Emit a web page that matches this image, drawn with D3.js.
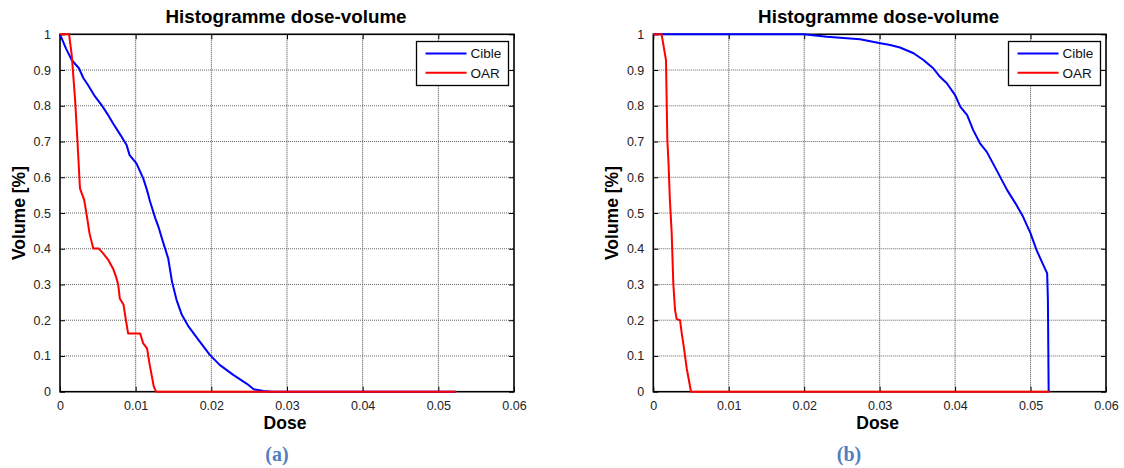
<!DOCTYPE html>
<html>
<head>
<meta charset="utf-8">
<script src="https://cdn.jsdelivr.net/npm/d3@7"></script>
<style>
  html, body { margin: 0; padding: 0; background: #fff; }
  svg { display: block; font-family: Arial, "Liberation Sans", Helvetica, sans-serif; }
</style>
</head>
<body>
<svg id="chart" width="1124" height="468"></svg>
<script>
// ---- Data ----
const titleText = "Histogramme dose-volume";
const xLabel = "Dose";
const yLabel = "Volume [%]";
const seriesNames = ["Cible", "OAR"];
const xTicks = [0, 0.01, 0.02, 0.03, 0.04, 0.05, 0.06];
const yTicks = [0, 0.1, 0.2, 0.3, 0.4, 0.5, 0.6, 0.7, 0.8, 0.9, 1];
const captions = ["(a)", "(b)"];

// Panel (a)
const cibleA = [[0,1],[0.0008,0.96],[0.00155,0.928],[0.0025,0.905],[0.0031,0.877],[0.0037,0.858],[0.0045,0.83],[0.0055,0.802],[0.0063,0.776],[0.0070,0.751],[0.0080,0.718],[0.0088,0.690],[0.0092,0.662],[0.0101,0.639],[0.0110,0.597],[0.0115,0.564],[0.0119,0.532],[0.0126,0.485],[0.0130,0.462],[0.0136,0.42],[0.0143,0.373],[0.0148,0.308],[0.0154,0.257],[0.0161,0.215],[0.0170,0.182],[0.0183,0.145],[0.0198,0.103],[0.0211,0.075],[0.0229,0.047],[0.0247,0.022],[0.0256,0.007],[0.0269,0.002],[0.0280,0],[0.0523,0]];
const oarA = [[0,1],[0.0012,1],[0.00155,0.942],[0.0020,0.816],[0.0023,0.704],[0.00264,0.569],[0.0032,0.536],[0.0036,0.485],[0.0039,0.443],[0.0044,0.401],[0.0051,0.401],[0.0057,0.387],[0.0064,0.368],[0.0070,0.345],[0.0074,0.322],[0.0077,0.299],[0.0079,0.261],[0.0084,0.243],[0.0086,0.215],[0.0090,0.163],[0.0106,0.163],[0.0110,0.135],[0.0115,0.121],[0.0119,0.070],[0.0124,0.014],[0.0127,0],[0.0523,0]];

// Panel (b)
const cibleB = [[0,1],[0.0199,1],[0.023,0.993],[0.0274,0.986],[0.0301,0.975],[0.0314,0.970],[0.0327,0.963],[0.0345,0.947],[0.0358,0.928],[0.0371,0.905],[0.0380,0.881],[0.0389,0.863],[0.0400,0.830],[0.0407,0.797],[0.0416,0.774],[0.0424,0.732],[0.0433,0.695],[0.0442,0.671],[0.0455,0.620],[0.0469,0.564],[0.0480,0.527],[0.0490,0.490],[0.0500,0.443],[0.0508,0.396],[0.0517,0.354],[0.0522,0.331],[0.0523,0.257],[0.0524,0]];
const oarB = [[0,1],[0.0011,1],[0.00168,0.928],[0.00186,0.704],[0.0020,0.648],[0.0022,0.536],[0.00244,0.443],[0.00265,0.303],[0.00288,0.229],[0.0031,0.203],[0.00354,0.2],[0.00377,0.163],[0.00407,0.121],[0.00443,0.065],[0.0050,0],[0.0525,0]];

const colors = ["#0000ff", "#ff0000"];

const svg = d3.select("#chart");

function drawPanel(opts) {
  const { x0, x1, y0, y1, series, caption, yLabelX, legendX, captionX } = opts;
  const x = d3.scaleLinear().domain([0, 0.06]).range([x0, x1]);
  const y = d3.scaleLinear().domain([0, 1]).range([y1, y0]);
  const g = svg.append("g");

  // grid
  g.append("g").selectAll("line").data(xTicks.slice(1, -1)).join("line")
    .attr("x1", d => x(d)).attr("x2", d => x(d))
    .attr("y1", y0).attr("y2", y1)
    .attr("stroke", "#444").attr("stroke-width", 1).attr("stroke-dasharray", "1,1");
  g.append("g").selectAll("line").data(yTicks.slice(1, -1)).join("line")
    .attr("x1", x0).attr("x2", x1)
    .attr("y1", d => y(d)).attr("y2", d => y(d))
    .attr("stroke", "#666").attr("stroke-width", 1).attr("stroke-dasharray", "1,1");

  // axes (ticks inward)
  const fmt = d => d === 0 ? "0" : (d === 1 ? "1" : String(+d.toFixed(2)));
  const bottom = g.append("g").attr("transform", `translate(0,${y1})`)
    .call(d3.axisBottom(x).tickValues(xTicks).tickSize(-5).tickPadding(9).tickFormat(fmt));
  const left = g.append("g").attr("transform", `translate(${x0},0)`)
    .call(d3.axisLeft(y).tickValues(yTicks).tickSize(-5).tickPadding(9).tickFormat(fmt));
  const top = g.append("g").attr("transform", `translate(0,${y0})`)
    .call(d3.axisTop(x).tickValues(xTicks).tickSize(-5).tickFormat(""));
  const right = g.append("g").attr("transform", `translate(${x1},0)`)
    .call(d3.axisRight(y).tickValues(yTicks).tickSize(-5).tickFormat(""));
  [bottom, left, top, right].forEach(a => {
    a.select(".domain").remove();
    a.selectAll(".tick line").attr("stroke", "#000").attr("stroke-width", 1);
    a.selectAll("text").attr("font-size", "12.5px").attr("fill", "#222")
      .attr("font-family", "Arial, 'Liberation Sans', sans-serif");
  });

  // frame
  g.append("rect").attr("x", x0).attr("y", y0)
    .attr("width", x1 - x0).attr("height", y1 - y0)
    .attr("fill", "none").attr("stroke", "#000").attr("stroke-width", 1.6);

  // lines
  const line = d3.line().x(d => x(d[0])).y(d => y(d[1]));
  series.forEach((s, i) => {
    g.append("path").datum(s).attr("d", line)
      .attr("fill", "none").attr("stroke", colors[i]).attr("stroke-width", 2)
      .attr("stroke-linejoin", "round");
  });

  // title
  g.append("text").attr("x", (x0 + x1) / 2 - 1).attr("y", 22.5)
    .attr("text-anchor", "middle").attr("font-weight", "bold").attr("font-size", "18.8px")
    .attr("fill", "#000").text(titleText);
  // x label
  g.append("text").attr("x", (x0 + x1) / 2 - 2).attr("y", 429)
    .attr("text-anchor", "middle").attr("font-weight", "bold").attr("font-size", "17.5px")
    .attr("fill", "#000").text(xLabel);
  // y label
  g.append("text").attr("transform", `translate(${yLabelX},${(y0 + y1) / 2}) rotate(-90)`)
    .attr("text-anchor", "middle").attr("font-weight", "bold").attr("font-size", "17.5px")
    .attr("fill", "#000").text(yLabel);

  // legend
  const lg = g.append("g").attr("transform", `translate(${legendX},41.5)`);
  lg.append("rect").attr("x", 0).attr("y", 0).attr("width", 92).attr("height", 44)
    .attr("fill", "#fff").attr("stroke", "#000").attr("stroke-width", 1.3);
  seriesNames.forEach((n, i) => {
    const yy = 12 + i * 19.3;
    lg.append("line").attr("x1", 9).attr("x2", 50).attr("y1", yy).attr("y2", yy)
      .attr("stroke", colors[i]).attr("stroke-width", 2);
    lg.append("text").attr("x", 54).attr("y", yy + 4.8)
      .attr("font-size", "13.5px").attr("fill", "#111").text(n);
  });

  // caption
  g.append("text").attr("x", captionX).attr("y", 461)
    .attr("text-anchor", "middle").attr("font-weight", "bold").attr("font-size", "20px")
    .attr("font-family", "'Liberation Serif', 'DejaVu Serif', 'Times New Roman', serif")
    .attr("fill", "#4f7fc0").text(caption);
}

drawPanel({ x0: 60, x1: 514, y0: 34.3, y1: 391.7, series: [cibleA, oarA], caption: captions[0], yLabelX: 25, legendX: 416.5, captionX: 277 });
drawPanel({ x0: 653.3, x1: 1106, y0: 34.3, y1: 391.7, series: [cibleB, oarB], caption: captions[1], yLabelX: 618, legendX: 1008.5, captionX: 849 });
</script>
</body>
</html>
